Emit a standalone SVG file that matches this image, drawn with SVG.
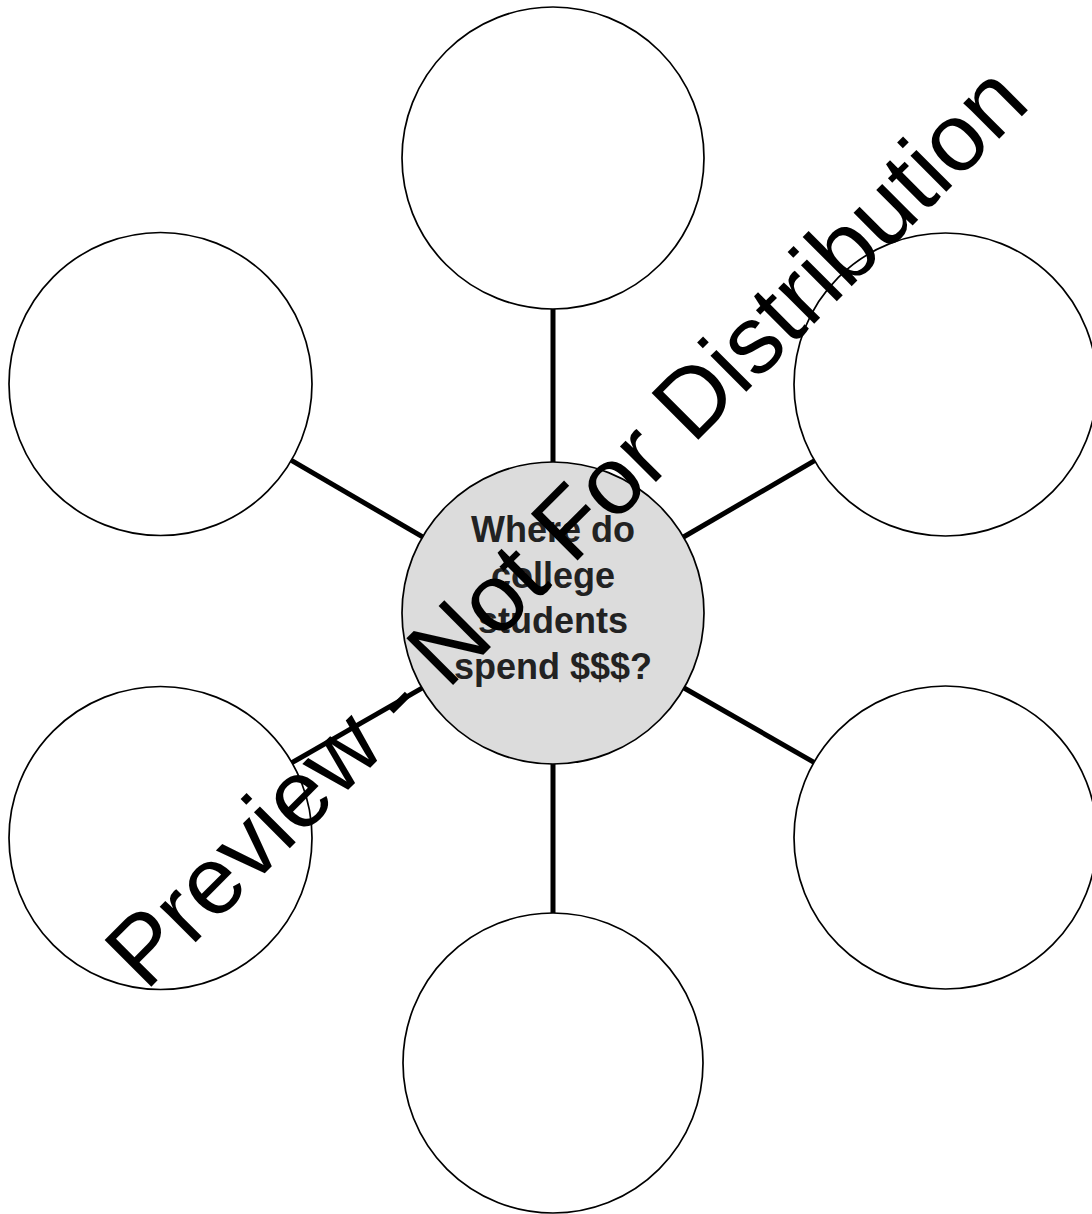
<svg xmlns="http://www.w3.org/2000/svg" width="1092" height="1214" viewBox="0 0 1092 1214">
<style>
.conn{stroke:#000;stroke-width:5;stroke-linecap:butt;fill:none}
.outer{fill:#fff;stroke:#000;stroke-width:1.7}
.hub{fill:#dcdcdc;stroke:#000;stroke-width:1.7}
.hubtxt{font-family:"Liberation Sans",Arial,sans-serif;font-weight:bold;font-size:36px;fill:#222;text-anchor:middle}
.wm{font-family:"Liberation Sans",Arial,sans-serif;font-size:96px;fill:#000;text-anchor:middle}
</style>
<rect width="1092" height="1214" fill="#fff"/>
<g id="connectors">
<line class="conn" x1="553" y1="309" x2="553" y2="462"/>
<line class="conn" x1="553" y1="764" x2="553" y2="913"/>
<line class="conn" x1="422.6" y1="536.9" x2="291.4" y2="460.4"/>
<line class="conn" x1="422" y1="688.1" x2="291.9" y2="762.7"/>
<line class="conn" x1="683.5" y1="537" x2="814.6" y2="460.7"/>
<line class="conn" x1="684.1" y1="688" x2="814" y2="762.3"/>
</g>
<g id="node-top"><circle class="outer" cx="553" cy="158" r="151"/></g>
<g id="node-bottom"><circle class="outer" cx="553" cy="1063" r="150"/></g>
<g id="node-upper-left"><circle class="outer" cx="160.5" cy="384" r="151.5"/></g>
<g id="node-lower-left"><circle class="outer" cx="160.5" cy="838" r="151.5"/></g>
<g id="node-upper-right"><circle class="outer" cx="945.5" cy="384.5" r="151.5"/></g>
<g id="node-lower-right"><circle class="outer" cx="945.5" cy="837.5" r="151.5"/></g>
<g id="node-center">
<circle class="hub" cx="553" cy="613" r="151"/>
<text class="hubtxt" x="553" y="542">Where do</text>
<text class="hubtxt" x="553" y="588">college</text>
<text class="hubtxt" x="553" y="633">students</text>
<text class="hubtxt" x="553" y="679">spend $$$?</text>
</g>
<g id="watermark">
<text class="wm" x="589" y="549" transform="rotate(-45 589 549)">Preview - Not For Distribution</text>
</g>
</svg>
